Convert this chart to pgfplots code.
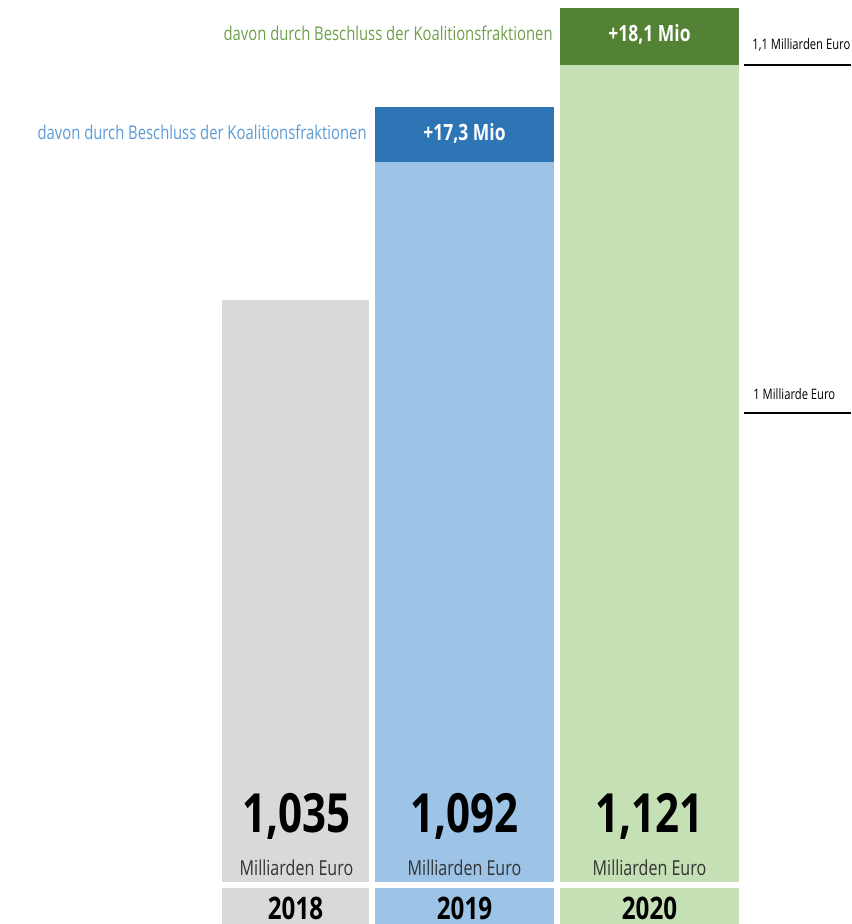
\documentclass[border=0pt]{standalone}
\usepackage{pgfplots}
\pgfplotsset{compat=1.18}
\usepackage{fontspec}
\setmainfont[FakeStretch=0.78]{Open Sans}
\definecolor{greyb}{HTML}{D9D9D9}
\definecolor{lblue}{HTML}{9DC3E6}
\definecolor{dblue}{HTML}{2E75B6}
\definecolor{lgreen}{HTML}{C5E0B4}
\definecolor{dgreen}{HTML}{548235}
\definecolor{tblue}{HTML}{5B9BD5}
\definecolor{tgreen}{HTML}{6E9F4B}
\begin{document}
\begin{tikzpicture}
\begin{axis}[scale only axis, width=425.5pt, height=441pt,
  xmin=0, xmax=851, ymin=0.8636, ymax=1.12342,
  axis lines=none, ticks=none]
\addplot[ybar, bar width=147, bar shift=0pt, fill=greyb, draw=none] coordinates {(295.5,1.035)};
\addplot[ybar, bar width=179, bar shift=0pt, fill=dblue, draw=none] coordinates {(464.5,1.092)};
\addplot[ybar, bar width=179, bar shift=0pt, fill=lblue, draw=none] coordinates {(464.5,1.0757)};
\addplot[ybar, bar width=179, bar shift=0pt, fill=dgreen, draw=none] coordinates {(649.5,1.121)};
\addplot[ybar, bar width=179, bar shift=0pt, fill=lgreen, draw=none] coordinates {(649.5,1.1042)};
\coordinate (TL) at (rel axis cs:0,1);
\end{axis}
\begin{scope}[shift={(TL)}, x=0.5pt, y=-0.5pt]
\fill[greyb] (222,888) rectangle (369,924);
\fill[lblue] (375,888) rectangle (554,924);
\fill[lgreen] (560,888) rectangle (739,924);
\node[inner sep=0, anchor=base] at (295.5,919) {\fontsize{15.5}{16}\selectfont\bfseries 2018};
\node[inner sep=0, anchor=base] at (464.5,919) {\fontsize{15.5}{16}\selectfont\bfseries 2019};
\node[inner sep=0, anchor=base] at (649.5,919) {\fontsize{15.5}{16}\selectfont\bfseries 2020};
\node[inner sep=0, anchor=base] at (296.5,833) {\fontsize{27}{28}\selectfont\bfseries 1,035};
\node[inner sep=0, anchor=base] at (464.5,833) {\fontsize{27}{28}\selectfont\bfseries 1,092};
\node[inner sep=0, anchor=base] at (649.5,833) {\fontsize{27}{28}\selectfont\bfseries 1,121};
\node[inner sep=0, anchor=base, text=black!80] at (296.5,875) {\fontsize{10.3}{11}\selectfont Milliarden Euro};
\node[inner sep=0, anchor=base, text=black!80] at (464.5,875) {\fontsize{10.3}{11}\selectfont Milliarden Euro};
\node[inner sep=0, anchor=base, text=black!80] at (649.5,875) {\fontsize{10.3}{11}\selectfont Milliarden Euro};
\node[inner sep=0, text=white] at (464.5,133) {\fontsize{11.2}{12}\selectfont\bfseries +17,3 Mio};
\node[inner sep=0, text=white] at (649.5,34) {\fontsize{11.2}{12}\selectfont\bfseries +18,1 Mio};
\node[inner sep=0, anchor=base east, text=tblue] at (367,140) {\fontsize{9.5}{10}\selectfont davon durch Beschluss der Koalitionsfraktionen};
\node[inner sep=0, anchor=base east, text=tgreen] at (553,41) {\fontsize{9.5}{10}\selectfont davon durch Beschluss der Koalitionsfraktionen};
\node[inner sep=0, anchor=base west] at (752,50) {\fontsize{7.2}{8}\selectfont 1,1 Milliarden Euro};
\node[inner sep=0, anchor=base west] at (753,400) {\fontsize{7.2}{8}\selectfont 1 Milliarde Euro};
\draw[line width=1pt] (744,65) -- (851,65);
\draw[line width=1pt] (744,413) -- (851,413);
\pgfresetboundingbox
\path[use as bounding box] (0,0) rectangle (851,924);
\end{scope}
\end{tikzpicture}
\end{document}
